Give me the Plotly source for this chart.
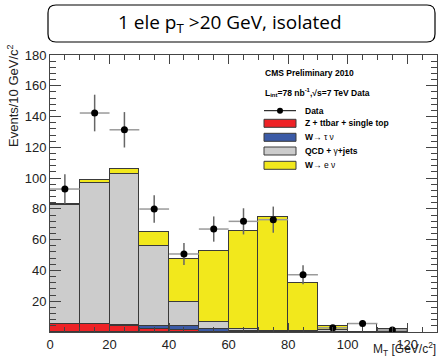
import plotly.graph_objects as go

# ---- data ----
bin_centers = [5, 15, 25, 35, 45, 55, 65, 75, 85, 95, 105, 115, 125]
bin_width = 10
z_ttbar = [5.0, 5.0, 3.8, 1.8, 1.0, 0.3, 0.2, 0.1, 0.1, 0.1, None, None, None]
w_tau = [0.4, 0.4, 0.8, 2.0, 2.8, 1.9, 0.6, 0.2, 0.1, 0.1, None, None, None]
qcd = [76.9, 91.4, 98.3, 52.1, 15.7, 4.0, 1.1, 0.2, 0.2, 1.1, None, 2.0, None]
w_enu = [0.6, 1.7, 3.0, 9.3, 28.1, 46.4, 63.9, 74.0, 31.6, 2.7, None, None, None]
other = [None, None, None, None, None, None, None, None, None, None, 5.0, None, None]
data_x = [5, 15, 25, 35, 45, 55, 65, 75, 85, 95, 105, 115]
data_y = [92.9, 142.3, 131.4, 79.9, 50.7, 66.9, 71.9, 73.0, 37.2, 2.7, 5.5, 1.3]
data_err = [9.6, 11.9, 11.5, 8.9, 7.1, 8.2, 8.5, 8.5, 6.1, 1.6, 2.3, 1.1]
x_ticks = [0, 20, 40, 60, 80, 100, 120]
y_ticks = [20, 40, 60, 80, 100, 120, 140, 160, 180]

RED = "#ee2226"
BLUE = "#3b5aa6"
GREY = "#cccccc"
YELLOW = "#f2e81c"
EDGE = "#3a3a3a"

# plot area in pixels
W, H = 439, 360
L, R, T, B = 50, 437, 55, 332


def fx(px):
    return (px - L) / (R - L)


def fy(py):
    return (B - py) / (B - T)


fig = go.Figure()
for vals, col in [(z_ttbar, RED), (w_tau, BLUE), (qcd, GREY), (w_enu, YELLOW), (other, "white")]:
    fig.add_trace(go.Bar(
        x=bin_centers, y=vals, width=bin_width,
        marker=dict(color=col, line=dict(color=EDGE, width=1)),
        showlegend=False, hoverinfo="skip",
    ))

fig.add_trace(go.Scatter(
    x=data_x, y=data_y, mode="markers",
    marker=dict(color="black", size=7),
    error_y=dict(type="data", array=data_err, color="#666666", thickness=1.5, width=0),
    error_x=dict(type="constant", value=bin_width / 2, color="#9a9a9a", thickness=1.5, width=0),
    showlegend=False, hoverinfo="skip",
))

shapes = []
annotations = []

# rounded title box
x0p, x1p, y0p, y1p, r = 48, 435, 5, 42, 8
path = (
    f"M {fx(x0p + r)} {fy(y0p)} L {fx(x1p - r)} {fy(y0p)} "
    f"Q {fx(x1p)} {fy(y0p)} {fx(x1p)} {fy(y0p + r)} "
    f"L {fx(x1p)} {fy(y1p - r)} Q {fx(x1p)} {fy(y1p)} {fx(x1p - r)} {fy(y1p)} "
    f"L {fx(x0p + r)} {fy(y1p)} Q {fx(x0p)} {fy(y1p)} {fx(x0p)} {fy(y1p - r)} "
    f"L {fx(x0p)} {fy(y0p + r)} Q {fx(x0p)} {fy(y0p)} {fx(x0p + r)} {fy(y0p)} Z"
)
shapes.append(dict(type="path", xref="paper", yref="paper", path=path,
                   line=dict(color="black", width=1.2), fillcolor="rgba(0,0,0,0)"))
annotations.append(dict(
    x=fx(230), y=fy(23), xref="paper", yref="paper", xanchor="center", yanchor="middle",
    text="1 ele p<sub>T</sub> &gt;20 GeV, isolated", showarrow=False,
    font=dict(family="Open Sans", size=19, color="black")))

# legend
lfont = dict(family="Liberation Sans", size=8.5, color="black")
annotations.append(dict(x=fx(263), y=fy(73.5), xref="paper", yref="paper", xanchor="left",
                        yanchor="middle", showarrow=False, text="<b>CMS Preliminary 2010</b>", font=lfont))
annotations.append(dict(x=fx(263), y=fy(92.5), xref="paper", yref="paper", xanchor="left",
                        yanchor="middle", showarrow=False,
                        text="<b>L<sub>int</sub>=78 nb<sup>-1</sup>,√s=7 TeV Data</b>", font=lfont))
sx0, sx1 = 264, 296
# data entry
shapes.append(dict(type="line", xref="paper", yref="paper", x0=fx(sx0), x1=fx(sx1),
                   y0=fy(110.7), y1=fy(110.7), line=dict(color="black", width=1)))
shapes.append(dict(type="circle", xref="paper", yref="paper", x0=fx(277), x1=fx(283),
                   y0=fy(107.7), y1=fy(113.7), fillcolor="black", line=dict(color="black", width=0)))
annotations.append(dict(x=fx(303), y=fy(110.7), xref="paper", yref="paper", xanchor="left",
                        yanchor="middle", showarrow=False, text="<b>Data</b>", font=lfont))
entries = [
    (123.3, RED, "<b>Z + ttbar + single top</b>"),
    (137.3, BLUE, "<b>W</b>→ τ ν"),
    (151.0, GREY, "<b>QCD + </b>γ<b>+jets</b>"),
    (165.3, YELLOW, "<b>W</b>→ e ν"),
]
for yc, col, txt in entries:
    shapes.append(dict(type="rect", xref="paper", yref="paper", x0=fx(sx0), x1=fx(sx1),
                       y0=fy(yc - 4), y1=fy(yc + 4), fillcolor=col, line=dict(color=EDGE, width=1)))
    annotations.append(dict(x=fx(303), y=fy(yc), xref="paper", yref="paper", xanchor="left",
                            yanchor="middle", showarrow=False, text=txt, font=lfont))

# axis titles
annotations.append(dict(x=fx(13), y=fy(96), xref="paper", yref="paper", xanchor="center",
                        yanchor="middle", textangle=-90, showarrow=False,
                        text="Events/10 GeV/c<sup>2</sup>",
                        font=dict(family="Liberation Sans", size=13, color="#222")))
annotations.append(dict(x=fx(438), y=fy(360), xref="paper", yref="paper", xanchor="right",
                        yanchor="bottom", showarrow=False,
                        text="M<sub>T</sub> [GeV/c<sup>2</sup>]",
                        font=dict(family="Liberation Sans", size=12, color="#222")))

fig.update_layout(
    width=W, height=H,
    margin=dict(l=L, r=W - R, t=T, b=H - B),
    paper_bgcolor="white", plot_bgcolor="white",
    barmode="stack", bargap=0,
    shapes=shapes, annotations=annotations,
    font=dict(family="Liberation Sans", size=13, color="#222"),
    xaxis=dict(range=[0, 130], tickvals=x_ticks, ticks="inside", ticklen=9, tickcolor="#444",
               showline=True, linecolor="#444", linewidth=1, mirror="ticks", showgrid=False,
               zeroline=False, automargin=False, ticklabelstandoff=0,
               minor=dict(dtick=5, ticks="inside", ticklen=5, tickcolor="#444", showgrid=False)),
    yaxis=dict(range=[0, 180], tickvals=y_ticks, ticks="inside", ticklen=11, tickcolor="#444",
               showline=True, linecolor="#444", linewidth=1, mirror="ticks", showgrid=False,
               zeroline=False, automargin=False,
               minor=dict(dtick=4, ticks="inside", ticklen=6, tickcolor="#444", showgrid=False)),
)

fig.write_html("out.html", config={"displayModeBar": False},
               post_script="document.body.style.margin='0';document.body.style.overflow='hidden';")
